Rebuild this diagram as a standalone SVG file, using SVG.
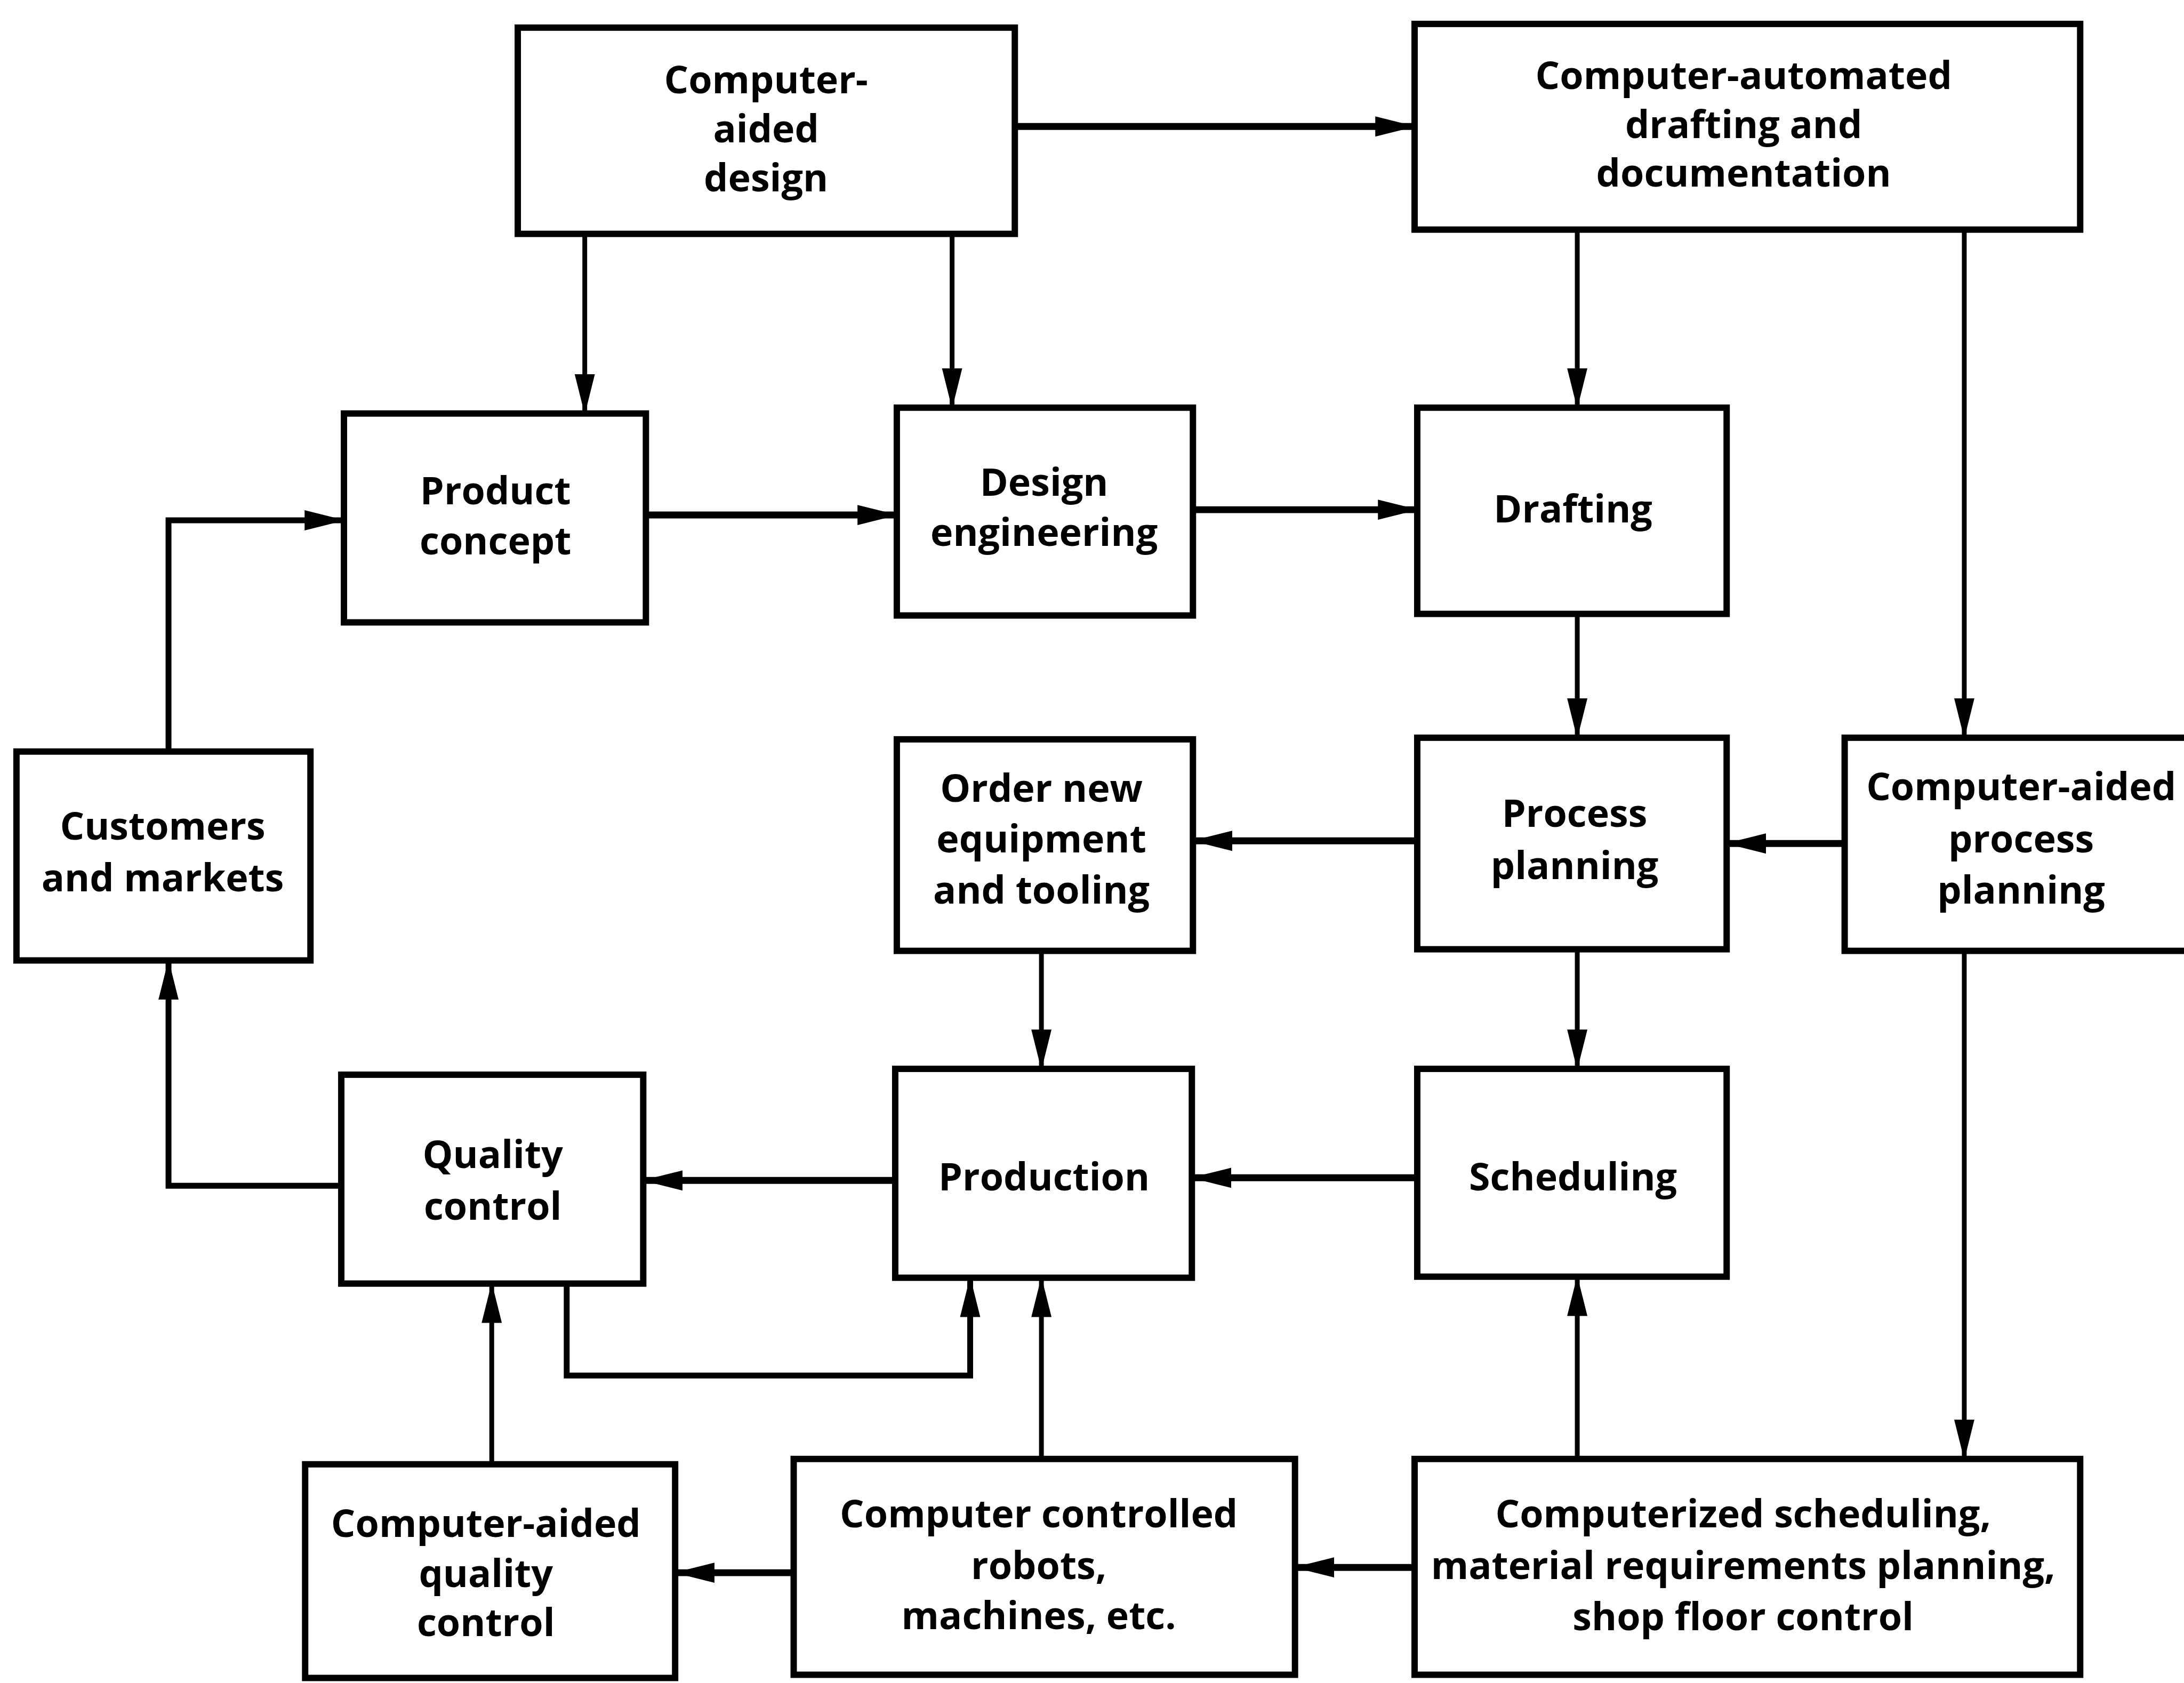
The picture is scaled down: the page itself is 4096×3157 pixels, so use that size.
<svg xmlns="http://www.w3.org/2000/svg" width="4096" height="3157" viewBox="0 0 4096 3157">
  <style>
    .box { fill: #ffffff; stroke: #000000; stroke-width: 12; }
    .lbl { font-family: "Open Sans", "Noto Sans", "Liberation Sans", sans-serif; font-weight: 700; font-size: 72px; letter-spacing: 0px; fill: #000000; text-anchor: middle; }
    .wire { fill: none; stroke: #000000; stroke-width: 11; stroke-linejoin: miter; }
    .wire.h { stroke-width: 13; }
    .wire.v { stroke-width: 9; }
  </style>
  <defs>
    <marker id="arrow" viewBox="0 0 76 44" markerWidth="76" markerHeight="44" refX="74" refY="22" orient="auto" markerUnits="userSpaceOnUse">
      <path d="M0,3 L76,22 L0,41 Z" fill="#000000"/>
    </marker>
  </defs>
  <rect x="0" y="0" width="4096" height="3157" fill="#ffffff"/>
  <g transform="scale(0.997)">
    <!-- connectors -->
    <g id="connectors">
      <path class="wire h" d="M1909,238 H2661" marker-end="url(#arrow)"/>
      <path class="wire v" d="M1100,440 V778" marker-end="url(#arrow)"/>
      <path class="wire v" d="M1791,440 V767" marker-end="url(#arrow)"/>
      <path class="wire h" d="M1215,969 H1687" marker-end="url(#arrow)"/>
      <path class="wire h" d="M2244,959 H2666" marker-end="url(#arrow)"/>
      <path class="wire v" d="M2967,432 V767" marker-end="url(#arrow)"/>
      <path class="wire v" d="M3695,432 V1388" marker-end="url(#arrow)"/>
      <path class="wire v" d="M2967,1155 V1388" marker-end="url(#arrow)"/>
      <path class="wire h" d="M3470,1587 H3248" marker-end="url(#arrow)"/>
      <path class="wire h" d="M2666,1582 H2244" marker-end="url(#arrow)"/>
      <path class="wire v" d="M1959,1789 V2011" marker-end="url(#arrow)"/>
      <path class="wire v" d="M2967,1786 V2011" marker-end="url(#arrow)"/>
      <path class="wire v" d="M3695,1789 V2745" marker-end="url(#arrow)"/>
      <path class="wire h" d="M2666,2216 H2242" marker-end="url(#arrow)"/>
      <path class="wire h" d="M1684,2221 H1210" marker-end="url(#arrow)"/>
      <path class="wire" d="M642,2231 H317 V1807" marker-end="url(#arrow)"/>
      <path class="wire" d="M317,1414 V979 H647" marker-end="url(#arrow)"/>
      <path class="wire" d="M1066,2415 V2588 H1825 V2404" marker-end="url(#arrow)"/>
      <path class="wire v" d="M925,2755 V2415" marker-end="url(#arrow)"/>
      <path class="wire v" d="M1959,2745 V2404" marker-end="url(#arrow)"/>
      <path class="wire h" d="M1493,2959 H1270" marker-end="url(#arrow)"/>
      <path class="wire h" d="M2661,2949 H2436" marker-end="url(#arrow)"/>
      <path class="wire v" d="M2967,2745 V2402" marker-end="url(#arrow)"/>
    </g>

    <!-- nodes -->
    <g id="cad">
      <rect class="box" x="974" y="52" width="935" height="388"/>
      <text class="lbl" x="1441" y="176">Computer-</text>
      <text class="lbl" x="1441" y="268">aided</text>
      <text class="lbl" x="1441" y="360">design</text>
    </g>
    <g id="caddoc">
      <rect class="box" x="2661" y="45" width="1252" height="387"/>
      <text class="lbl" x="3280" y="168">Computer-automated</text>
      <text class="lbl" x="3280" y="260">drafting and</text>
      <text class="lbl" x="3280" y="351">documentation</text>
    </g>
    <g id="product-concept">
      <rect class="box" x="647" y="778" width="568" height="393"/>
      <text class="lbl" x="932" y="949">Product</text>
      <text class="lbl" x="932" y="1043">concept</text>
    </g>
    <g id="design-engineering">
      <rect class="box" x="1687" y="767" width="557" height="391"/>
      <text class="lbl" x="1964" y="933">Design</text>
      <text class="lbl" x="1964" y="1027">engineering</text>
    </g>
    <g id="drafting">
      <rect class="box" x="2666" y="767" width="582" height="388"/>
      <text class="lbl" x="2959" y="983">Drafting</text>
    </g>
    <g id="customers">
      <rect class="box" x="31" y="1414" width="553" height="393"/>
      <text class="lbl" x="306" y="1580">Customers</text>
      <text class="lbl" x="306" y="1677">and markets</text>
    </g>
    <g id="order-equipment">
      <rect class="box" x="1687" y="1391" width="557" height="398"/>
      <text class="lbl" x="1959" y="1509">Order new</text>
      <text class="lbl" x="1959" y="1604">equipment</text>
      <text class="lbl" x="1959" y="1700">and tooling</text>
    </g>
    <g id="process-planning">
      <rect class="box" x="2666" y="1388" width="582" height="398"/>
      <text class="lbl" x="2962" y="1556">Process</text>
      <text class="lbl" x="2962" y="1654">planning</text>
    </g>
    <g id="capp">
      <rect class="box" x="3470" y="1388" width="700" height="401"/>
      <text class="lbl" x="3802" y="1506">Computer-aided</text>
      <text class="lbl" x="3802" y="1604">process</text>
      <text class="lbl" x="3802" y="1700">planning</text>
    </g>
    <g id="quality-control">
      <rect class="box" x="642" y="2022" width="568" height="393"/>
      <text class="lbl" x="927" y="2198">Quality</text>
      <text class="lbl" x="927" y="2295">control</text>
    </g>
    <g id="production">
      <rect class="box" x="1684" y="2011" width="558" height="393"/>
      <text class="lbl" x="1964" y="2240">Production</text>
    </g>
    <g id="scheduling">
      <rect class="box" x="2666" y="2011" width="582" height="391"/>
      <text class="lbl" x="2959" y="2240">Scheduling</text>
    </g>
    <g id="caqc">
      <rect class="box" x="574" y="2755" width="696" height="402"/>
      <text class="lbl" x="914" y="2892">Computer-aided</text>
      <text class="lbl" x="914" y="2986">quality</text>
      <text class="lbl" x="914" y="3078">control</text>
    </g>
    <g id="robots">
      <rect class="box" x="1493" y="2745" width="943" height="406"/>
      <text class="lbl" x="1954" y="2874">Computer controlled</text>
      <text class="lbl" x="1954" y="2971">robots,</text>
      <text class="lbl" x="1954" y="3065">machines, etc.</text>
    </g>
    <g id="mrp">
      <rect class="box" x="2661" y="2745" width="1252" height="406"/>
      <text class="lbl" x="3279" y="2874">Computerized scheduling,</text>
      <text class="lbl" x="3279" y="2971">material requirements planning,</text>
      <text class="lbl" x="3279" y="3067">shop floor control</text>
    </g>
  </g>
</svg>
